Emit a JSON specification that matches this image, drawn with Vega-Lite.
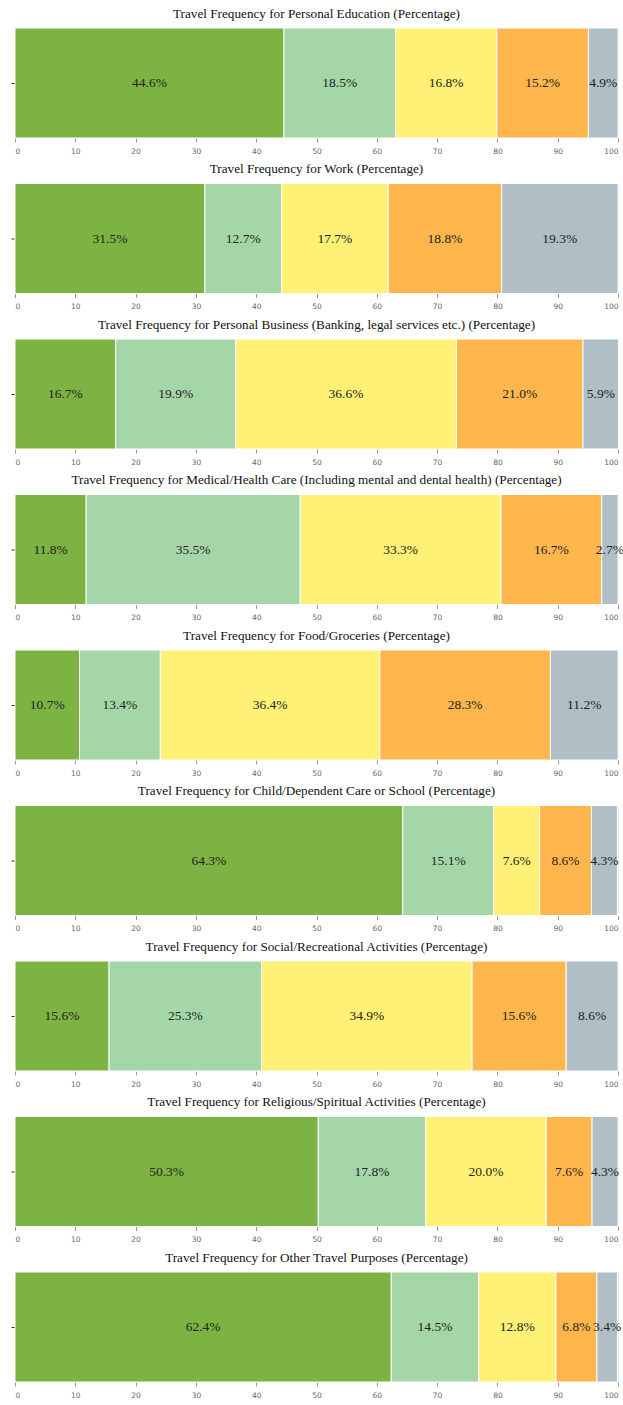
{
  "$schema": "https://vega.github.io/schema/vega-lite/v6.json",
  "padding": {"left": 10, "top": 6, "right": 6, "bottom": 0},
  "datasets": {
    "d": [
      {"purpose": "Personal Education", "level": "Very often", "order": 1, "value": 44.6, "label": "44.6%"},
      {"purpose": "Personal Education", "level": "Often", "order": 2, "value": 18.5, "label": "18.5%"},
      {"purpose": "Personal Education", "level": "Sometimes", "order": 3, "value": 16.8, "label": "16.8%"},
      {"purpose": "Personal Education", "level": "Rarely", "order": 4, "value": 15.2, "label": "15.2%"},
      {"purpose": "Personal Education", "level": "Never", "order": 5, "value": 4.9, "label": "4.9%"},
      {"purpose": "Work", "level": "Very often", "order": 1, "value": 31.5, "label": "31.5%"},
      {"purpose": "Work", "level": "Often", "order": 2, "value": 12.7, "label": "12.7%"},
      {"purpose": "Work", "level": "Sometimes", "order": 3, "value": 17.7, "label": "17.7%"},
      {"purpose": "Work", "level": "Rarely", "order": 4, "value": 18.8, "label": "18.8%"},
      {"purpose": "Work", "level": "Never", "order": 5, "value": 19.3, "label": "19.3%"},
      {"purpose": "Personal Business", "level": "Very often", "order": 1, "value": 16.7, "label": "16.7%"},
      {"purpose": "Personal Business", "level": "Often", "order": 2, "value": 19.9, "label": "19.9%"},
      {"purpose": "Personal Business", "level": "Sometimes", "order": 3, "value": 36.6, "label": "36.6%"},
      {"purpose": "Personal Business", "level": "Rarely", "order": 4, "value": 21.0, "label": "21.0%"},
      {"purpose": "Personal Business", "level": "Never", "order": 5, "value": 5.9, "label": "5.9%"},
      {"purpose": "Medical", "level": "Very often", "order": 1, "value": 11.8, "label": "11.8%"},
      {"purpose": "Medical", "level": "Often", "order": 2, "value": 35.5, "label": "35.5%"},
      {"purpose": "Medical", "level": "Sometimes", "order": 3, "value": 33.3, "label": "33.3%"},
      {"purpose": "Medical", "level": "Rarely", "order": 4, "value": 16.7, "label": "16.7%"},
      {"purpose": "Medical", "level": "Never", "order": 5, "value": 2.7, "label": "2.7%"},
      {"purpose": "Food", "level": "Very often", "order": 1, "value": 10.7, "label": "10.7%"},
      {"purpose": "Food", "level": "Often", "order": 2, "value": 13.4, "label": "13.4%"},
      {"purpose": "Food", "level": "Sometimes", "order": 3, "value": 36.4, "label": "36.4%"},
      {"purpose": "Food", "level": "Rarely", "order": 4, "value": 28.3, "label": "28.3%"},
      {"purpose": "Food", "level": "Never", "order": 5, "value": 11.2, "label": "11.2%"},
      {"purpose": "Child", "level": "Very often", "order": 1, "value": 64.3, "label": "64.3%"},
      {"purpose": "Child", "level": "Often", "order": 2, "value": 15.1, "label": "15.1%"},
      {"purpose": "Child", "level": "Sometimes", "order": 3, "value": 7.6, "label": "7.6%"},
      {"purpose": "Child", "level": "Rarely", "order": 4, "value": 8.6, "label": "8.6%"},
      {"purpose": "Child", "level": "Never", "order": 5, "value": 4.3, "label": "4.3%"},
      {"purpose": "Social", "level": "Very often", "order": 1, "value": 15.6, "label": "15.6%"},
      {"purpose": "Social", "level": "Often", "order": 2, "value": 25.3, "label": "25.3%"},
      {"purpose": "Social", "level": "Sometimes", "order": 3, "value": 34.9, "label": "34.9%"},
      {"purpose": "Social", "level": "Rarely", "order": 4, "value": 15.6, "label": "15.6%"},
      {"purpose": "Social", "level": "Never", "order": 5, "value": 8.6, "label": "8.6%"},
      {"purpose": "Religious", "level": "Very often", "order": 1, "value": 50.3, "label": "50.3%"},
      {"purpose": "Religious", "level": "Often", "order": 2, "value": 17.8, "label": "17.8%"},
      {"purpose": "Religious", "level": "Sometimes", "order": 3, "value": 20.0, "label": "20.0%"},
      {"purpose": "Religious", "level": "Rarely", "order": 4, "value": 7.6, "label": "7.6%"},
      {"purpose": "Religious", "level": "Never", "order": 5, "value": 4.3, "label": "4.3%"},
      {"purpose": "Other", "level": "Very often", "order": 1, "value": 62.4, "label": "62.4%"},
      {"purpose": "Other", "level": "Often", "order": 2, "value": 14.5, "label": "14.5%"},
      {"purpose": "Other", "level": "Sometimes", "order": 3, "value": 12.8, "label": "12.8%"},
      {"purpose": "Other", "level": "Rarely", "order": 4, "value": 6.8, "label": "6.8%"},
      {"purpose": "Other", "level": "Never", "order": 5, "value": 3.4, "label": "3.4%"}
    ]
  },
  "config": {
    "view": {"stroke": null},
    "concat": {"spacing": 6.5},
    "title": {"font": "Liberation Serif", "fontSize": 13.2, "fontWeight": "normal", "color": "#111", "offset": 6.8},
    "axis": {"zindex": 1, "domain": false, "gridColor": "#d4d4d4", "gridOpacity": 0.65, "gridWidth": 0.8, "tickColor": "#999", "tickSize": 4, "labelFont": "DejaVu Sans", "labelFontSize": 7.5, "labelColor": "#666", "labelPadding": 5, "title": null},
    "axisY": {"minExtent": 4, "maxExtent": 4, "labels": false, "grid": false, "tickSize": 4, "tickColor": "#333"}
  },
  "vconcat": [
    {"title": "Travel Frequency for Personal Education (Percentage)", "transform": [{"filter": "datum.purpose === 'Personal Education'"}, {"stack": "value", "groupby": ["purpose"], "sort": [{"field": "order"}], "as": ["x0", "x1"]}, {"calculate": "(datum.x0 + datum.x1) / 2", "as": "mid"}], "data": {"name": "d"}, "width": 603, "height": 110,
     "encoding": {"y": {"field": "purpose", "type": "nominal", "scale": {"padding": 0}}},
     "layer": [
      {"mark": {"type": "bar", "stroke": "white", "strokeWidth": 1}, "encoding": {"x": {"field": "x0", "type": "quantitative", "scale": {"domain": [0, 100], "nice": false}, "axis": {"values": [0,10,20,30,40,50,60,70,80,90,100]}}, "x2": {"field": "x1"}, "color": {"field": "level", "type": "nominal", "legend": null, "scale": {"domain": ["Very often", "Often", "Sometimes", "Rarely", "Never"], "range": ["#7cb342", "#a5d6a7", "#fff176", "#ffb74d", "#b0bec5"]}}}},
      {"mark": {"type": "text", "font": "Liberation Serif", "fontSize": 13.5, "color": "#222"}, "encoding": {"x": {"field": "mid", "type": "quantitative"}, "text": {"field": "label"}}}
     ]},
    {"title": "Travel Frequency for Work (Percentage)", "transform": [{"filter": "datum.purpose === 'Work'"}, {"stack": "value", "groupby": ["purpose"], "sort": [{"field": "order"}], "as": ["x0", "x1"]}, {"calculate": "(datum.x0 + datum.x1) / 2", "as": "mid"}], "data": {"name": "d"}, "width": 603, "height": 110,
     "encoding": {"y": {"field": "purpose", "type": "nominal", "scale": {"padding": 0}}},
     "layer": [
      {"mark": {"type": "bar", "stroke": "white", "strokeWidth": 1}, "encoding": {"x": {"field": "x0", "type": "quantitative", "scale": {"domain": [0, 100], "nice": false}, "axis": {"values": [0,10,20,30,40,50,60,70,80,90,100]}}, "x2": {"field": "x1"}, "color": {"field": "level", "type": "nominal", "legend": null, "scale": {"domain": ["Very often", "Often", "Sometimes", "Rarely", "Never"], "range": ["#7cb342", "#a5d6a7", "#fff176", "#ffb74d", "#b0bec5"]}}}},
      {"mark": {"type": "text", "font": "Liberation Serif", "fontSize": 13.5, "color": "#222"}, "encoding": {"x": {"field": "mid", "type": "quantitative"}, "text": {"field": "label"}}}
     ]},
    {"title": "Travel Frequency for Personal Business (Banking, legal services etc.) (Percentage)", "transform": [{"filter": "datum.purpose === 'Personal Business'"}, {"stack": "value", "groupby": ["purpose"], "sort": [{"field": "order"}], "as": ["x0", "x1"]}, {"calculate": "(datum.x0 + datum.x1) / 2", "as": "mid"}], "data": {"name": "d"}, "width": 603, "height": 110,
     "encoding": {"y": {"field": "purpose", "type": "nominal", "scale": {"padding": 0}}},
     "layer": [
      {"mark": {"type": "bar", "stroke": "white", "strokeWidth": 1}, "encoding": {"x": {"field": "x0", "type": "quantitative", "scale": {"domain": [0, 100], "nice": false}, "axis": {"values": [0,10,20,30,40,50,60,70,80,90,100]}}, "x2": {"field": "x1"}, "color": {"field": "level", "type": "nominal", "legend": null, "scale": {"domain": ["Very often", "Often", "Sometimes", "Rarely", "Never"], "range": ["#7cb342", "#a5d6a7", "#fff176", "#ffb74d", "#b0bec5"]}}}},
      {"mark": {"type": "text", "font": "Liberation Serif", "fontSize": 13.5, "color": "#222"}, "encoding": {"x": {"field": "mid", "type": "quantitative"}, "text": {"field": "label"}}}
     ]},
    {"title": "Travel Frequency for Medical/Health Care (Including mental and dental health) (Percentage)", "transform": [{"filter": "datum.purpose === 'Medical'"}, {"stack": "value", "groupby": ["purpose"], "sort": [{"field": "order"}], "as": ["x0", "x1"]}, {"calculate": "(datum.x0 + datum.x1) / 2", "as": "mid"}], "data": {"name": "d"}, "width": 603, "height": 110,
     "encoding": {"y": {"field": "purpose", "type": "nominal", "scale": {"padding": 0}}},
     "layer": [
      {"mark": {"type": "bar", "stroke": "white", "strokeWidth": 1}, "encoding": {"x": {"field": "x0", "type": "quantitative", "scale": {"domain": [0, 100], "nice": false}, "axis": {"values": [0,10,20,30,40,50,60,70,80,90,100]}}, "x2": {"field": "x1"}, "color": {"field": "level", "type": "nominal", "legend": null, "scale": {"domain": ["Very often", "Often", "Sometimes", "Rarely", "Never"], "range": ["#7cb342", "#a5d6a7", "#fff176", "#ffb74d", "#b0bec5"]}}}},
      {"mark": {"type": "text", "font": "Liberation Serif", "fontSize": 13.5, "color": "#222"}, "encoding": {"x": {"field": "mid", "type": "quantitative"}, "text": {"field": "label"}}}
     ]},
    {"title": "Travel Frequency for Food/Groceries (Percentage)", "transform": [{"filter": "datum.purpose === 'Food'"}, {"stack": "value", "groupby": ["purpose"], "sort": [{"field": "order"}], "as": ["x0", "x1"]}, {"calculate": "(datum.x0 + datum.x1) / 2", "as": "mid"}], "data": {"name": "d"}, "width": 603, "height": 110,
     "encoding": {"y": {"field": "purpose", "type": "nominal", "scale": {"padding": 0}}},
     "layer": [
      {"mark": {"type": "bar", "stroke": "white", "strokeWidth": 1}, "encoding": {"x": {"field": "x0", "type": "quantitative", "scale": {"domain": [0, 100], "nice": false}, "axis": {"values": [0,10,20,30,40,50,60,70,80,90,100]}}, "x2": {"field": "x1"}, "color": {"field": "level", "type": "nominal", "legend": null, "scale": {"domain": ["Very often", "Often", "Sometimes", "Rarely", "Never"], "range": ["#7cb342", "#a5d6a7", "#fff176", "#ffb74d", "#b0bec5"]}}}},
      {"mark": {"type": "text", "font": "Liberation Serif", "fontSize": 13.5, "color": "#222"}, "encoding": {"x": {"field": "mid", "type": "quantitative"}, "text": {"field": "label"}}}
     ]},
    {"title": "Travel Frequency for Child/Dependent Care or School (Percentage)", "transform": [{"filter": "datum.purpose === 'Child'"}, {"stack": "value", "groupby": ["purpose"], "sort": [{"field": "order"}], "as": ["x0", "x1"]}, {"calculate": "(datum.x0 + datum.x1) / 2", "as": "mid"}], "data": {"name": "d"}, "width": 603, "height": 110,
     "encoding": {"y": {"field": "purpose", "type": "nominal", "scale": {"padding": 0}}},
     "layer": [
      {"mark": {"type": "bar", "stroke": "white", "strokeWidth": 1}, "encoding": {"x": {"field": "x0", "type": "quantitative", "scale": {"domain": [0, 100], "nice": false}, "axis": {"values": [0,10,20,30,40,50,60,70,80,90,100]}}, "x2": {"field": "x1"}, "color": {"field": "level", "type": "nominal", "legend": null, "scale": {"domain": ["Very often", "Often", "Sometimes", "Rarely", "Never"], "range": ["#7cb342", "#a5d6a7", "#fff176", "#ffb74d", "#b0bec5"]}}}},
      {"mark": {"type": "text", "font": "Liberation Serif", "fontSize": 13.5, "color": "#222"}, "encoding": {"x": {"field": "mid", "type": "quantitative"}, "text": {"field": "label"}}}
     ]},
    {"title": "Travel Frequency for Social/Recreational Activities (Percentage)", "transform": [{"filter": "datum.purpose === 'Social'"}, {"stack": "value", "groupby": ["purpose"], "sort": [{"field": "order"}], "as": ["x0", "x1"]}, {"calculate": "(datum.x0 + datum.x1) / 2", "as": "mid"}], "data": {"name": "d"}, "width": 603, "height": 110,
     "encoding": {"y": {"field": "purpose", "type": "nominal", "scale": {"padding": 0}}},
     "layer": [
      {"mark": {"type": "bar", "stroke": "white", "strokeWidth": 1}, "encoding": {"x": {"field": "x0", "type": "quantitative", "scale": {"domain": [0, 100], "nice": false}, "axis": {"values": [0,10,20,30,40,50,60,70,80,90,100]}}, "x2": {"field": "x1"}, "color": {"field": "level", "type": "nominal", "legend": null, "scale": {"domain": ["Very often", "Often", "Sometimes", "Rarely", "Never"], "range": ["#7cb342", "#a5d6a7", "#fff176", "#ffb74d", "#b0bec5"]}}}},
      {"mark": {"type": "text", "font": "Liberation Serif", "fontSize": 13.5, "color": "#222"}, "encoding": {"x": {"field": "mid", "type": "quantitative"}, "text": {"field": "label"}}}
     ]},
    {"title": "Travel Frequency for Religious/Spiritual Activities (Percentage)", "transform": [{"filter": "datum.purpose === 'Religious'"}, {"stack": "value", "groupby": ["purpose"], "sort": [{"field": "order"}], "as": ["x0", "x1"]}, {"calculate": "(datum.x0 + datum.x1) / 2", "as": "mid"}], "data": {"name": "d"}, "width": 603, "height": 110,
     "encoding": {"y": {"field": "purpose", "type": "nominal", "scale": {"padding": 0}}},
     "layer": [
      {"mark": {"type": "bar", "stroke": "white", "strokeWidth": 1}, "encoding": {"x": {"field": "x0", "type": "quantitative", "scale": {"domain": [0, 100], "nice": false}, "axis": {"values": [0,10,20,30,40,50,60,70,80,90,100]}}, "x2": {"field": "x1"}, "color": {"field": "level", "type": "nominal", "legend": null, "scale": {"domain": ["Very often", "Often", "Sometimes", "Rarely", "Never"], "range": ["#7cb342", "#a5d6a7", "#fff176", "#ffb74d", "#b0bec5"]}}}},
      {"mark": {"type": "text", "font": "Liberation Serif", "fontSize": 13.5, "color": "#222"}, "encoding": {"x": {"field": "mid", "type": "quantitative"}, "text": {"field": "label"}}}
     ]},
    {"title": "Travel Frequency for Other Travel Purposes (Percentage)", "transform": [{"filter": "datum.purpose === 'Other'"}, {"stack": "value", "groupby": ["purpose"], "sort": [{"field": "order"}], "as": ["x0", "x1"]}, {"calculate": "(datum.x0 + datum.x1) / 2", "as": "mid"}], "data": {"name": "d"}, "width": 603, "height": 110,
     "encoding": {"y": {"field": "purpose", "type": "nominal", "scale": {"padding": 0}}},
     "layer": [
      {"mark": {"type": "bar", "stroke": "white", "strokeWidth": 1}, "encoding": {"x": {"field": "x0", "type": "quantitative", "scale": {"domain": [0, 100], "nice": false}, "axis": {"values": [0,10,20,30,40,50,60,70,80,90,100]}}, "x2": {"field": "x1"}, "color": {"field": "level", "type": "nominal", "legend": null, "scale": {"domain": ["Very often", "Often", "Sometimes", "Rarely", "Never"], "range": ["#7cb342", "#a5d6a7", "#fff176", "#ffb74d", "#b0bec5"]}}}},
      {"mark": {"type": "text", "font": "Liberation Serif", "fontSize": 13.5, "color": "#222"}, "encoding": {"x": {"field": "mid", "type": "quantitative"}, "text": {"field": "label"}}}
     ]}
  ]
}
